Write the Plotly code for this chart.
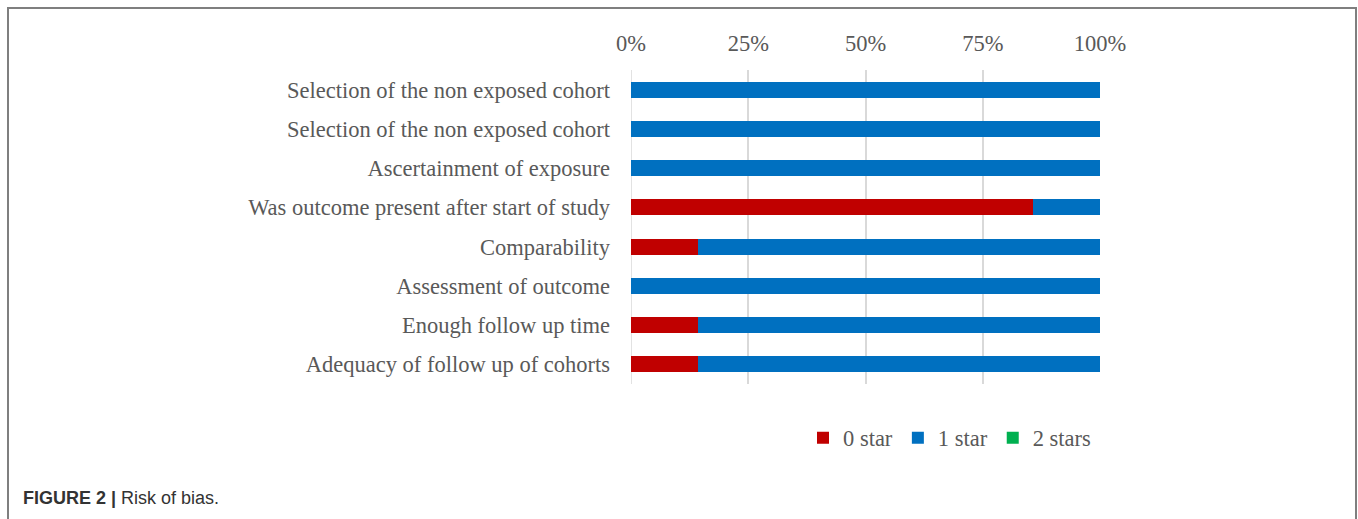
import plotly.graph_objects as go

categories = [
    "Selection of the non exposed cohort",
    "Selection of the non exposed cohort",
    "Ascertainment of exposure",
    "Was outcome present after start of study",
    "Comparability",
    "Assessment of outcome",
    "Enough follow up time",
    "Adequacy of follow up of cohorts",
]
zero_star = [0, 0, 0, 85.7, 14.3, 0, 14.3, 14.3]
one_star = [100, 100, 100, 14.3, 85.7, 100, 85.7, 85.7]
two_stars = [0, 0, 0, 0, 0, 0, 0, 0]
x_ticks = [0, 25, 50, 75, 100]

W, H = 1358, 519
serif = "Liberation Serif, Times New Roman, serif"
txt = "#595959"
fs = 22.5

positions = list(range(len(categories)))

fig = go.Figure()
for name, vals, col in [("0 star", zero_star, "#C00000"),
                        ("1 star", one_star, "#0070C0"),
                        ("2 stars", two_stars, "#00B050")]:
    fig.add_trace(go.Bar(y=positions, x=vals, name=name, orientation="h",
                         marker=dict(color=col, line=dict(width=0))))

fig.update_layout(
    width=W, height=H, barmode="stack", bargap=0.59,
    margin=dict(l=631, r=258, t=70, b=135),
    paper_bgcolor="white", plot_bgcolor="white",
    font=dict(family=serif, size=fs, color=txt),
    showlegend=True,
    legend=dict(orientation="h", xref="container", yref="container",
                x=803 / W, y=1 - 438 / H, xanchor="left", yanchor="middle",
                font=dict(family=serif, size=fs, color=txt),
                itemwidth=30, traceorder="normal", tracegroupgap=0),
    xaxis=dict(side="top", range=[0, 100], tickvals=x_ticks,
               ticktext=[f"{v}%" for v in x_ticks],
               showgrid=True, gridcolor="#D9D9D9", gridwidth=1.5,
               zeroline=False, showline=False, ticks="",
               ticklabelstandoff=14, fixedrange=True),
    yaxis=dict(tickmode="array", tickvals=positions, ticktext=categories,
               range=[len(categories) - 0.5, -0.5], autorange=False,
               showgrid=False, zeroline=False, showline=False, ticks="",
               ticklabelstandoff=20, fixedrange=True),
)

# vertical gridline at 0%
fig.add_shape(type="line", xref="x", yref="paper", x0=0, x1=0, y0=0, y1=1,
              line=dict(color="#D9D9D9", width=1.5), layer="below")

# frame border (open at bottom)
fig.add_shape(type="path", xref="paper", yref="paper",
              path=f"M {(8 - 631) / 469} -0.6 L {(8 - 631) / 469} {1 + 62 / 314} "
                   f"L {(1356 - 631) / 469} {1 + 62 / 314} L {(1356 - 631) / 469} -0.6",
              line=dict(color="#7F7F7F", width=2))

fig.add_annotation(xref="paper", yref="paper",
                   x=(21 - 631) / 469, y=-(498 - 384) / 314,
                   xanchor="left", yanchor="middle", showarrow=False,
                   text="<b>FIGURE 2 |</b> Risk of bias.",
                   font=dict(family="Liberation Sans, Arial, sans-serif", size=18, color="#333333"))

fig.write_html("out.html")
